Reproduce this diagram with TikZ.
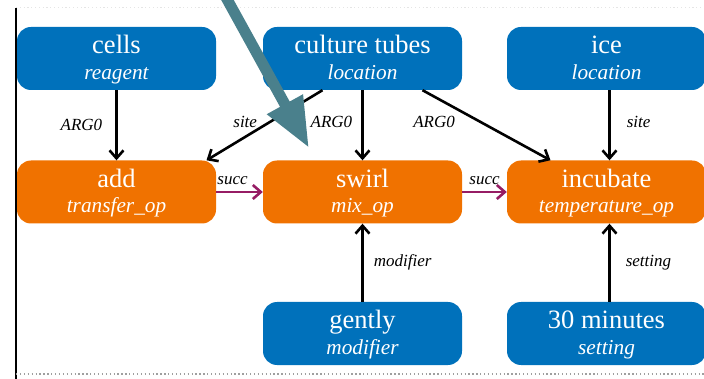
\documentclass[tikz,border=0pt]{standalone}
\usepackage{fontspec}
\setmainfont{Liberation Serif}
\usetikzlibrary{arrows.meta}

\definecolor{entblue}{RGB}{0,113,187}
\definecolor{actorange}{RGB}{240,114,0}
\definecolor{succpurple}{RGB}{150,28,100}
\definecolor{pointerteal}{RGB}{74,128,140}

% two-line box text: name on top, role in italics below
\newcommand\boxtext[2]{{\fontsize{26.5}{25.5}\selectfont #1}\rule{0pt}{21pt}\\%
  {\fontsize{21.3}{25.5}\selectfont\itshape #2}\rule[-5pt]{0pt}{5pt}}

\tikzset{
  box/.style={rounded corners=14pt, minimum width=199pt, minimum height=63pt,
    inner sep=0pt, text=white, align=center, font=\fontsize{26}{25.5}\selectfont},
  ent/.style={box, fill=entblue},
  act/.style={box, fill=actorange},
  arr/.style={line width=2.6pt, draw=black, -{Straight Barb[length=8pt,width=14pt]}},
  succarr/.style={line width=2.6pt, draw=succpurple, -{Straight Barb[length=8pt,width=14pt]}},
  lab/.style={font=\fontsize{17}{19}\selectfont\itshape, inner sep=0pt, text=black},
}

\begin{document}
\begin{tikzpicture}[x=1pt,y=-1pt]
\useasboundingbox (0,0) rectangle (704,379);

% frame lines
\coordinate (ftop) at (16,8);
\coordinate (fbot) at (16,379);
\coordinate (dl) at (16,374);
\coordinate (dr) at (704,374);
\coordinate (tl) at (16,8);
\coordinate (tr) at (704,8);
\draw[gray!20, line width=1pt, dash pattern=on 1.2pt off 2.6pt] (tl) -- (tr);
\draw[black, line width=2.6pt] (ftop) -- (fbot);
\draw[gray!75, line width=1.3pt, dash pattern=on 1.3pt off 2.6pt] (dl) -- (dr);

% boxes
\node[ent] (cells)   at (116.5,58.5) {\boxtext{cells}{reagent}};
\node[ent] (culture) at (362.5,58.5) {\boxtext{culture tubes}{location}};
\node[ent] (ice)     at (606.5,58.5) {\boxtext{ice}{location}};
\node[act] (add)      at (116.5,192) {\boxtext{add}{transfer\_op}};
\node[act] (swirl)    at (362.5,192) {\boxtext{swirl}{mix\_op}};
\node[act] (incubate) at (606.5,192) {\boxtext{incubate}{temperature\_op}};
\node[ent] (gently) at (362.5,333.5) {\boxtext{gently}{modifier}};
\node[ent] (thirty) at (606.5,333.5) {\boxtext{30 minutes}{setting}};

% argument edges
\draw[arr] (cells) -- node[lab, left=13pt] {ARG0} (add);
\draw[arr] ([xshift=-40pt]culture.south) -- node[lab, left=12pt, pos=0.45] {site} ([xshift=90pt]add.north);
\draw[arr] (culture) -- node[lab, left=9pt, pos=0.45] {ARG0} (swirl);
\draw[arr] ([xshift=60pt]culture.south) -- node[lab, left=24pt, pos=0.45] {ARG0} ([xshift=-56pt]incubate.north);
\draw[arr] ([xshift=3pt]ice.south) -- node[lab, right=16pt, pos=0.45] {site} ([xshift=3pt]incubate.north);
\draw[arr] (gently) -- node[lab, right=10pt] {modifier} (swirl);
\draw[arr] ([xshift=3pt]thirty.north) -- node[lab, right=15pt] {setting} ([xshift=3pt]incubate.south);

% sequence edges
\draw[succarr] (add) -- node[lab, above=6pt, pos=0.35] {succ} (swirl);
\draw[succarr] (swirl) -- node[lab, above=6pt, pos=0.5] {succ} (incubate);

% large pointer arrow
\begin{scope}
  \clip (0,0) rectangle (704,379);
  \coordinate (ptail) at (222.5,-9);
  \coordinate (phead) at (309,148);
  \draw[pointerteal, line width=11pt, -{Triangle[length=50pt,width=38pt]}] (ptail) -- (phead);
\end{scope}
\end{tikzpicture}
\end{document}
